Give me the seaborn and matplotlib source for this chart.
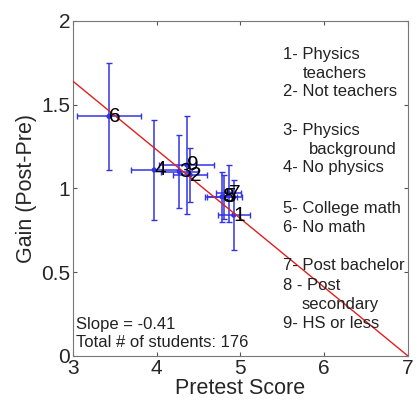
import matplotlib
matplotlib.use("Agg")
import matplotlib.pyplot as plt
import seaborn as sns
import pandas as pd

# group labels (number shown at each point)
labels = ["1", "2", "3", "4", "5", "6", "7", "8", "9"]
pretest = [4.92, 4.40, 4.27, 3.97, 4.80, 3.43, 4.86, 4.78, 4.36]
gain = [0.84, 1.08, 1.10, 1.11, 0.95, 1.43, 0.97, 0.95, 1.14]
pretest_err = [0.19, 0.20, 0.22, 0.28, 0.22, 0.38, 0.15, 0.18, 0.33]
gain_err = [0.21, 0.16, 0.22, 0.30, 0.13, 0.32, 0.17, 0.15, 0.29]

fit_x = [3, 7]
fit_y = [1.64, 0.0]

key_lines = [
    ("1- Physics", 55, 283), ("teachers", 73, 303), ("2- Not teachers", 92, 283),
    ("3- Physics", 131, 283), ("background", 150, 309), ("4- No physics", 168, 283),
    ("5- College math", 208, 283), ("6- No math", 227, 283),
    ("7- Post bachelor", 266, 283), ("8 - Post", 286, 283), ("secondary", 305, 302),
    ("9- HS or less", 324, 283),
]

df = pd.DataFrame({"pretest": pretest, "gain": gain, "label": labels})

sns.set_style("ticks")
plt.rcParams["font.family"] = ["Liberation Sans", "DejaVu Sans"]
plt.rcParams["xtick.direction"] = "in"
plt.rcParams["ytick.direction"] = "in"

fig = plt.figure(figsize=(4.17, 4.03), dpi=100)
ax = fig.add_axes([0.175, 0.117, 0.803, 0.831])

ax.errorbar(pretest, gain, xerr=pretest_err, yerr=gain_err, fmt="none",
            ecolor="#3333e6", elinewidth=1.1, capsize=2, capthick=1.0, zorder=2)
sns.scatterplot(data=df, x="pretest", y="gain", color="#3333e6", s=14,
                edgecolor="none", ax=ax, zorder=3)
sns.lineplot(x=fit_x, y=fit_y, color="#e02020", linewidth=1.0, ax=ax, zorder=4)

for x, y, t in zip(pretest, gain, labels):
    ax.text(x, y, t, fontsize=15, ha="left", va="center", color="black", zorder=5)

for txt, py, px in key_lines:
    fig.text(px / 417, 1 - py / 403, txt, fontsize=12, ha="left", va="center",
             color="#222222")

ax.text(0.01, 0.095, "Slope = -0.41", transform=ax.transAxes, fontsize=12,
        va="center", color="#222222")
ax.text(0.01, 0.04, "Total # of students: 176", transform=ax.transAxes, fontsize=12,
        va="center", color="#222222")

ax.set_xlim(3, 7)
ax.set_ylim(0, 2)
ax.set_xticks([3, 4, 5, 6, 7])
ax.set_yticks([0, 0.5, 1, 1.5, 2])
ax.set_yticklabels(["0", "0.5", "1", "1.5", "2"])
ax.tick_params(labelsize=15, length=3, top=True, right=True, color="#555555",
               pad=2)
ax.set_xlabel("Pretest Score", fontsize=15.5, labelpad=0)
ax.set_ylabel("Gain (Post-Pre)", fontsize=15.5, labelpad=3)
for s in ax.spines.values():
    s.set_color("#777777")
    s.set_linewidth(0.8)

plt.savefig("out.png", dpi=100)
